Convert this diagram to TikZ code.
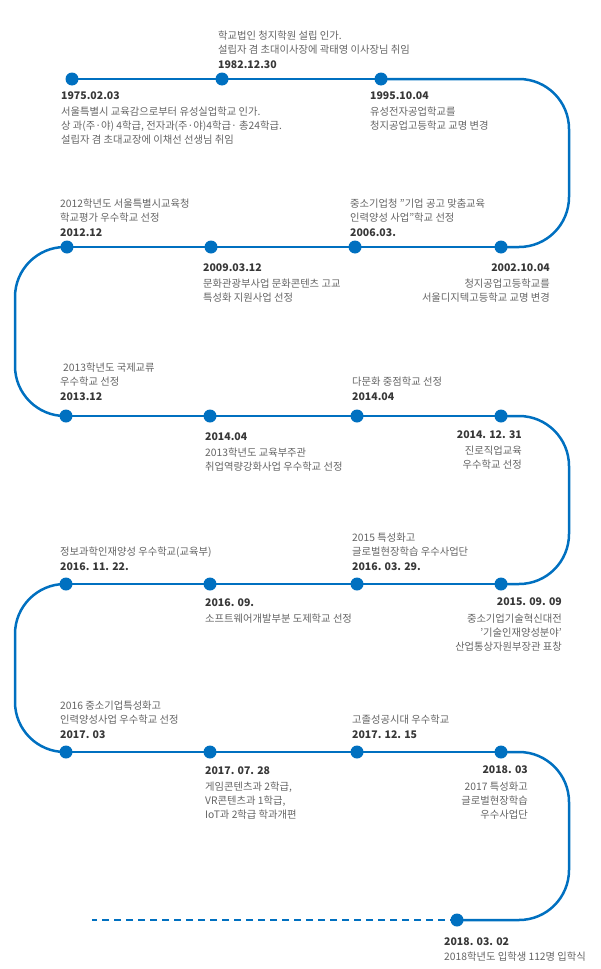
\documentclass[tikz,border=0pt]{standalone}
\usepackage{fontspec}
\setmainfont{Noto Sans CJK KR}

\definecolor{lineblue}{RGB}{0,112,192}
\definecolor{datecol}{RGB}{55,55,55}
\definecolor{desccol}{RGB}{100,100,100}

\newcommand{\dt}[1]{{\fontsize{10.5}{14}\selectfont\bfseries\color{datecol}#1}}

\tikzset{
  tline/.style={draw=lineblue, line width=2.5pt},
  tturn/.style={tline, rounded corners=50pt},
  tdot/.style={circle, fill=lineblue, inner sep=0pt, minimum size=13pt},
  evleft/.style={anchor=west, align=left, inner sep=0pt, text=desccol,
    font=\fontsize{10.3}{14}\selectfont},
  evright/.style={anchor=east, align=right, inner sep=0pt, text=desccol,
    font=\fontsize{10.3}{14}\selectfont}
}

\begin{document}
\begin{tikzpicture}[x=1pt, y=-1pt]
\useasboundingbox (0,0) rectangle (600,969);

% Points of the time line, one row after the other (pixel units, y down)
\coordinate (d1975) at (72, 79);
\coordinate (d1982) at (222, 79);
\coordinate (d1995) at (381, 79);
\coordinate (d2002) at (501, 247);
\coordinate (d2006) at (355, 247);
\coordinate (d2009) at (211, 247);
\coordinate (d2012) at (67, 247);
\coordinate (d2013) at (66, 416);
\coordinate (d2014a) at (210, 416);
\coordinate (d2014b) at (357, 416);
\coordinate (d2014c) at (501, 416);
\coordinate (d2015) at (501, 584);
\coordinate (d2016a) at (357, 584);
\coordinate (d2016b) at (210, 584);
\coordinate (d2016c) at (66, 584);
\coordinate (d2017a) at (66, 752);
\coordinate (d2017b) at (210, 752);
\coordinate (d2017c) at (357, 752);
\coordinate (d2018a) at (501, 752);
\coordinate (d2018b) at (457, 920);

% Turning points on the right and left side
\coordinate (right1) at (569, 79);   \coordinate (right2) at (569, 247);
\coordinate (left1)  at (15, 247);   \coordinate (left2)  at (15, 416);
\coordinate (right3) at (569, 416);  \coordinate (right4) at (569, 584);
\coordinate (left3)  at (15, 584);   \coordinate (left4)  at (15, 752);
\coordinate (right5) at (569, 752);  \coordinate (right6) at (569, 920);
\coordinate (dash end) at (92, 920);

% The straight rows
\draw[tline] (d1975) -- (d1995);
\draw[tline] (d2002) -- (d2012);
\draw[tline] (d2013) -- (d2014c);
\draw[tline] (d2015) -- (d2016c);
\draw[tline] (d2017a) -- (d2018a);
\draw[tline, line width=2pt, dash pattern=on 7pt off 5pt] (d2018b) -- (dash end);

% The turns
\draw[tturn] (d1995) -- (right1) -- (right2) -- (d2002);
\draw[tturn] (d2012) -- (left1) -- (left2) -- (d2013);
\draw[tturn] (d2014c) -- (right3) -- (right4) -- (d2015);
\draw[tturn] (d2016c) -- (left3) -- (left4) -- (d2017a);
\draw[tturn] (d2018a) -- (right5) -- (right6) -- (d2018b);

% dots
\foreach \p in {d1975,d1982,d1995,d2002,d2006,d2009,d2012,d2013,d2014a,d2014b,
  d2014c,d2015,d2016a,d2016b,d2016c,d2017a,d2017b,d2017c,d2018a,d2018b}
  \node[tdot] (dot-\p) at (\p) {};

% labels, row 1
\node[evleft] (e1975) at (61, 118.5) {\dt{1975.02.03}\\[2pt]
  서울특별시 교육감으로부터 유성실업학교 인가.\\
  상 과(주·야) 4학급, 전자과(주·야)4학급· 총24학급.\\
  설립자 겸 초대교장에 이채선 선생님 취임};
\node[evleft] (e1982) at (218, 50) {학교법인 청지학원 설립 인가.\\
  설립자 겸 초대이사장에 곽태영 이사장님 취임\\[1pt]\dt{1982.12.30}};
\node[evleft] (e1995) at (370, 111) {\dt{1995.10.04}\\[2pt]
  유성전자공업학교를\\청지공업고등학교 교명 변경};

% row 2
\node[evright] (e2002) at (550, 283) {\dt{2002.10.04}\\[2pt]
  청지공업고등학교를\\서울디지텍고등학교 교명 변경};
\node[evleft] (e2006) at (350, 217.5) {중소기업청 "기업 공고 맞춤교육\\
  인력양성 사업"학교 선정\\[1pt]\dt{2006.03.}};
\node[evleft] (e2009) at (203, 283) {\dt{2009.03.12}\\[2pt]
  문화관광부사업 문화콘텐츠 고교\\특성화 지원사업 선정};
\node[evleft] (e2012) at (60, 217.5) {2012학년도 서울특별시교육청\\
  학교평가 우수학교 선정\\[1pt]\dt{2012.12}};

% row 3
\node[evleft] (e2013) at (60, 381.5) {\hspace*{3pt}2013학년도 국제교류\\
  우수학교 선정\\[1pt]\dt{2013.12}};
\node[evleft] (e2014a) at (205, 452) {\dt{2014.04}\\[2pt]
  2013학년도 교육부주관\\취업역량강화사업 우수학교 선정};
\node[evleft] (e2014b) at (352, 388.5) {다문화 중점학교 선정\\[1pt]\dt{2014.04}};
\node[evright] (e2014c) at (522, 450) {\dt{2014. 12. 31}\\[2pt]
  진로직업교육\\우수학교 선정};

% row 4
\node[evright] (e2015) at (562, 625) {\dt{2015. 09. 09}\\[3pt]
  중소기업기술혁신대전\\'기술인재양성분야'\\산업통상자원부장관 표창};
\node[evleft] (e2016a) at (352, 551.5) {2015 특성화고\\
  글로벌현장학습 우수사업단\\[1pt]\dt{2016. 03. 29.}};
\node[evleft] (e2016b) at (205, 611) {\dt{2016. 09.}\\[2pt]
  소프트웨어개발부분 도제학교 선정};
\node[evleft] (e2016c) at (60, 558.5) {정보과학인재양성 우수학교(교육부)\\[1pt]
  \dt{2016. 11. 22.}};

% row 5
\node[evleft] (e2017a) at (60, 719.5) {2016 중소기업특성화고\\
  인력양성사업 우수학교 선정\\[1pt]\dt{2017. 03}};
\node[evleft] (e2017b) at (205, 793.5) {\dt{2017. 07. 28}\\[2pt]
  게임콘텐츠과 2학급,\\VR콘텐츠과 1학급,\\IoT과 2학급 학과개편};
\node[evleft] (e2017c) at (352, 726.5) {고졸성공시대 우수학교\\[1pt]\dt{2017. 12. 15}};
\node[evright] (e2018a) at (528, 793) {\dt{2018. 03}\\[3pt]
  2017 특성화고\\글로벌현장학습\\우수사업단};

% row 6
\node[evleft] (e2018b) at (444, 950) {\dt{2018. 03. 02}\\[1pt]
  2018학년도 입학생 112명 입학식};

\end{tikzpicture}
\end{document}
